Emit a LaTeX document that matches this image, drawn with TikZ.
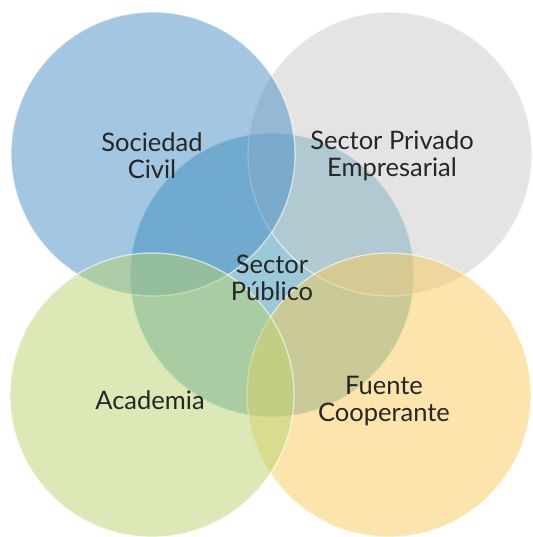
\documentclass[tikz,border=0pt]{standalone}
\usepackage{fontspec}
\setmainfont{Lato}
\definecolor{pubC}{RGB}{55,147,179}
\definecolor{civC}{RGB}{71,141,197}
\definecolor{privC}{RGB}{201,201,201}
\definecolor{acaC}{RGB}{185,211,111}
\definecolor{coopC}{RGB}{249,203,89}
\definecolor{txt}{RGB}{38,38,38}
\begin{document}
\begin{tikzpicture}[x=1pt, y=-1pt]

\tikzstyle{venn}=[circle, minimum size=284pt, inner sep=0pt, draw=white, draw opacity=0.6, line width=1.3pt, fill opacity=0.5]
\tikzstyle{lbl}=[align=center, inner sep=0pt, text=txt, font=\fontsize{25.5}{27}\selectfont]

\useasboundingbox (0,0) rectangle (532,537);

% --- circles ---
\node[venn, fill=pubC] (pub) at (272,275) {};
\node[venn, fill=privC] (priv) at (390,154) {};
\node[venn, fill=coopC] (coop) at (389,395) {};
\node[venn, fill=civC] (civ) at (153,154) {};
\node[venn, fill=acaC] (aca) at (152,395) {};

% --- labels ---
\node[lbl] (tciv) at (152,156) {Sociedad\\Civil};
\node[lbl] (tpriv) at (392,156) {Sector Privado\\Empresarial};
\node[lbl] (tpub) at (272,278) {Sector\\Público};
\node[lbl] (taca) at (150,400) {Academia};
\node[lbl] (tcoop) at (384,401) {Fuente\\Cooperante};

\end{tikzpicture}
\end{document}
